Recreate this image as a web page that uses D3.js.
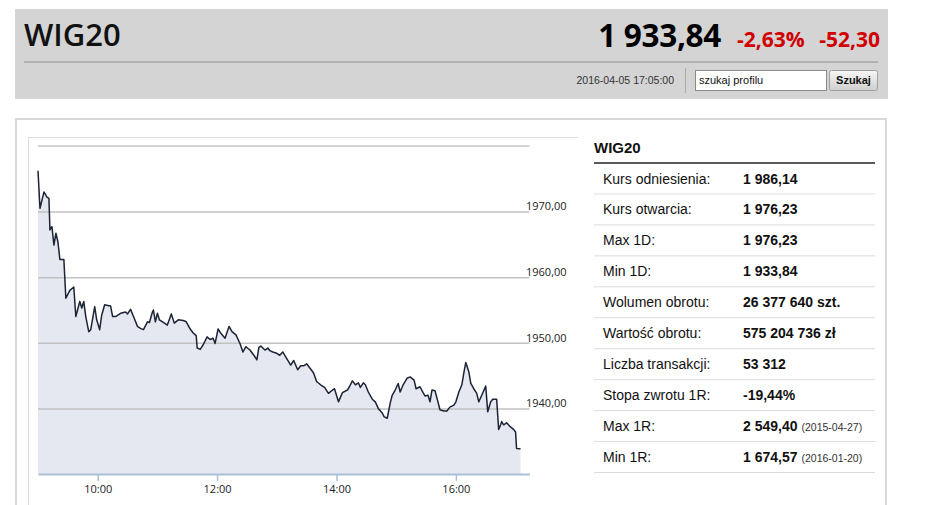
<!DOCTYPE html>
<html>
<head>
<meta charset="utf-8">
<script src="https://cdn.jsdelivr.net/npm/d3@7"></script>
<style>
  body { margin: 0; background: #fff; }
  svg { display: block; }
</style>
</head>
<body>
<div id="chart"></div>
<script>
// intraday WIG20 quotes, 2016-04-05
const times = [
  "09:00","09:02","09:06","09:09","09:11","09:12","09:14","09:16","09:18","09:20",
  "09:22","09:26","09:28","09:32","09:36","09:38","09:42","09:44","09:46","09:48",
  "09:51","09:53","09:57","09:59","10:02","10:04","10:07","10:10","10:13","10:15",
  "10:18","10:23","10:28","10:30","10:33","10:36","10:40","10:43","10:46","10:50",
  "10:52","10:55","10:56","10:58","11:00","11:02","11:06","11:10","11:14","11:17",
  "11:21","11:26","11:29","11:33","11:36","11:39","11:40","11:43","11:46","11:50",
  "11:53","11:56","11:58","12:01","12:04","12:08","12:12","12:15","12:19","12:23",
  "12:26","12:29","12:33","12:37","12:40","12:42","12:44","12:48","12:51","12:53",
  "12:56","13:00","13:03","13:06","13:10","13:14","13:17","13:21","13:24","13:27",
  "13:30","13:34","13:37","13:40","13:44","13:48","13:52","13:56","13:58","14:02",
  "14:06","14:11","14:13","14:16","14:19","14:22","14:24","14:27","14:29","14:32",
  "14:36","14:39","14:42","14:46","14:48","14:51","14:54","14:56","14:59","15:02",
  "15:04","15:07","15:11","15:14","15:18","15:20","15:24","15:27","15:29","15:32",
  "15:34","15:36","15:39","15:42","15:44","15:48","15:51","15:54","15:58","16:00",
  "16:03","16:06","16:08","16:10","16:13","16:15","16:18","16:21","16:23","16:26",
  "16:30","16:32","16:35","16:37","16:41","16:43","16:45","16:46","16:48","16:51",
  "16:54","16:58","17:00","17:01","17:05"
];
const quotes = [
  1976.23,1970.5,1973.0,1972.2,1972.0,1967.2,1967.7,1964.9,1966.7,1965.4,
  1962.7,1962.7,1956.8,1958.0,1958.5,1954.0,1956.3,1955.3,1956.3,1954.0,
  1951.7,1952.0,1955.5,1953.5,1952.0,1954.2,1955.8,1955.7,1955.6,1954.0,
  1954.0,1954.5,1954.7,1954.4,1955.1,1954.0,1952.5,1952.2,1952.0,1953.2,
  1953.1,1954.7,1955.0,1953.2,1954.5,1953.5,1953.1,1952.7,1954.4,1953.0,
  1953.5,1953.4,1953.2,1952.1,1951.5,1951.1,1949.2,1949.0,1949.7,1950.9,
  1950.5,1950.7,1949.9,1952.1,1951.4,1950.7,1952.5,1951.7,1951.2,1949.9,
  1948.6,1949.4,1948.9,1948.1,1947.4,1949.3,1949.5,1948.9,1949.2,1948.8,
  1948.6,1948.4,1948.1,1948.6,1947.6,1946.6,1947.3,1945.9,1946.5,1946.5,
  1946.8,1946.0,1945.4,1944.1,1943.6,1943.2,1942.3,1942.8,1943.0,1941.0,
  1942.4,1942.8,1943.3,1944.2,1943.6,1943.9,1943.2,1943.9,1943.6,1942.5,
  1941.4,1941.0,1940.0,1939.3,1938.7,1938.5,1940.8,1942.0,1942.8,1943.8,
  1942.5,1943.6,1944.6,1944.8,1944.3,1943.0,1943.3,1942.4,1941.9,1942.0,
  1941.0,1942.8,1942.7,1941.0,1939.8,1939.6,1939.6,1940.2,1940.5,1941.0,
  1942.5,1943.6,1945.4,1947.0,1945.6,1943.8,1943.0,1942.3,1941.0,1942.0,
  1943.4,1939.5,1941.0,1941.4,1941.4,1936.8,1937.5,1938.0,1937.5,1937.8,
  1937.3,1936.8,1936.4,1933.9,1933.84
];
const xTicks = ["10:00", "12:00", "14:00", "16:00"];
const yTicks = [1940, 1950, 1960, 1970];

const statLabels = ["Kurs odniesienia:", "Kurs otwarcia:", "Max 1D:", "Min 1D:", "Wolumen obrotu:",
  "Wartość obrotu:", "Liczba transakcji:", "Stopa zwrotu 1R:", "Max 1R:", "Min 1R:"];
const statValues = ["1 986,14", "1 976,23", "1 976,23", "1 933,84", "26 377 640 szt.",
  "575 204 736 zł", "53 312", "-19,44%", "2 549,40", "1 674,57"];
const statDates = ["", "", "", "", "", "", "", "", "(2015-04-27)", "(2016-01-20)"];

const parseTime = d3.timeParse("%H:%M");
const data = times.map((t, i) => ({ t: parseTime(t), v: quotes[i] }));

const svg = d3.select("#chart")
  .append("svg")
  .attr("width", 945)
  .attr("height", 505);

// header bar
const head = svg.append("g");
head.append("rect")
  .attr("x", 15).attr("y", 9).attr("width", 873).attr("height", 90)
  .attr("fill", "#d4d4d4");
head.append("text")
  .attr("x", 24).attr("y", 46)
  .attr("font-family", "Open Sans").attr("font-size", 31).attr("font-weight", 600)
  .attr("fill", "#111")
  .text("WIG20");
head.append("text")
  .attr("x", 721).attr("y", 47).attr("text-anchor", "end")
  .attr("font-family", "Open Sans").attr("font-size", 31.5).attr("font-weight", 700)
  .attr("fill", "#000").attr("letter-spacing", -0.3)
  .text("1 933,84");
head.append("text")
  .attr("x", 737).attr("y", 47)
  .attr("font-family", "Open Sans").attr("font-size", 21).attr("font-weight", 700)
  .attr("fill", "#d00000")
  .text("-2,63%");
head.append("text")
  .attr("x", 880).attr("y", 47).attr("text-anchor", "end")
  .attr("font-family", "Open Sans").attr("font-size", 21).attr("font-weight", 700)
  .attr("fill", "#d00000")
  .text("-52,30");
head.append("line")
  .attr("x1", 24).attr("x2", 878).attr("y1", 62).attr("y2", 62)
  .attr("stroke", "#a6a6a6").attr("stroke-width", 1.5);
head.append("text")
  .attr("x", 674).attr("y", 84).attr("text-anchor", "end")
  .attr("font-family", "Liberation Sans").attr("font-size", 10.5)
  .attr("fill", "#333")
  .text("2016-04-05 17:05:00");
head.append("line")
  .attr("x1", 685.5).attr("x2", 685.5).attr("y1", 68).attr("y2", 93)
  .attr("stroke", "#aaa");
head.append("rect")
  .attr("x", 695.5).attr("y", 70.5).attr("width", 131).attr("height", 20)
  .attr("fill", "#fff").attr("stroke", "#8a8a8a");
head.append("text")
  .attr("x", 699).attr("y", 84)
  .attr("font-family", "Liberation Sans").attr("font-size", 11)
  .attr("fill", "#111")
  .text("szukaj profilu");

const grad = svg.append("defs").append("linearGradient")
  .attr("id", "btn").attr("x1", 0).attr("x2", 0).attr("y1", 0).attr("y2", 1);
grad.append("stop").attr("offset", 0).attr("stop-color", "#f6f6f6");
grad.append("stop").attr("offset", 1).attr("stop-color", "#cfcfcf");
head.append("rect")
  .attr("x", 829.5).attr("y", 70.5).attr("width", 48).attr("height", 20).attr("rx", 2)
  .attr("fill", "url(#btn)").attr("stroke", "#a0a0a0");
head.append("text")
  .attr("x", 853.5).attr("y", 84).attr("text-anchor", "middle")
  .attr("font-family", "Liberation Sans").attr("font-size", 11).attr("font-weight", 700)
  .attr("fill", "#111")
  .text("Szukaj");

// panel frames
svg.append("path")
  .attr("d", "M16,506V119H886V506")
  .attr("fill", "none").attr("stroke", "#d9d9d9").attr("stroke-width", 2);
svg.append("path")
  .attr("d", "M28.5,506V137.5H578")
  .attr("fill", "none").attr("stroke", "#dcdcdc");

// chart
const x = d3.scaleTime()
  .domain([parseTime("09:00"), parseTime("17:14")])
  .range([38, 529.5]);
const y = d3.scaleLinear()
  .domain([1930, 1980])
  .range([474, 146]);

const plot = svg.append("g");

plot.append("path")
  .datum(data)
  .attr("fill", "#e5e8f0")
  .attr("d", d3.area().x(d => x(d.t)).y0(y(1930)).y1(d => y(d.v)));

plot.append("line")
  .attr("x1", 38).attr("x2", 529.5).attr("y1", y(1980)).attr("y2", y(1980))
  .attr("stroke", "#a9a9a9");

const yAxis = plot.append("g")
  .attr("transform", "translate(529.5,0)")
  .call(d3.axisRight(y)
    .tickValues(yTicks)
    .tickSize(-491.5)
    .tickPadding(-3.5)
    .tickFormat(d => d3.format(".2f")(d).replace(".", ",")));
yAxis.select(".domain").remove();
yAxis.selectAll(".tick line").attr("stroke", "#c2c2c2").attr("stroke-width", 1.5);
yAxis.selectAll(".tick text")
  .attr("dy", "-0.15em")
  .attr("font-family", "Open Sans").attr("font-size", 11)
  .attr("fill", "#222");

plot.append("path")
  .datum(data)
  .attr("fill", "none")
  .attr("stroke", "#1b2335")
  .attr("stroke-width", 1.5)
  .attr("stroke-linejoin", "round")
  .attr("d", d3.line().x(d => x(d.t)).y(d => y(d.v)));

const xAxis = plot.append("g")
  .attr("transform", `translate(0,${y(1930)})`)
  .call(d3.axisBottom(x)
    .tickValues(xTicks.map(parseTime))
    .tickSize(7)
    .tickSizeOuter(0)
    .tickPadding(4)
    .tickFormat(d3.timeFormat("%H:%M")));
xAxis.select(".domain").attr("stroke", "#abbfd6").attr("stroke-width", 2);
xAxis.selectAll(".tick line").attr("stroke", "#abbfd6").attr("stroke-width", 1.5);
xAxis.selectAll(".tick text")
  .attr("font-family", "Open Sans").attr("font-size", 11)
  .attr("fill", "#222");

// stats table
const tbl = svg.append("g").attr("font-family", "Liberation Sans").attr("fill", "#111");
tbl.append("text")
  .attr("x", 594).attr("y", 153)
  .attr("font-size", 15).attr("font-weight", 700)
  .text("WIG20");
tbl.append("line")
  .attr("x1", 594).attr("x2", 875).attr("y1", 163).attr("y2", 163)
  .attr("stroke", "#222").attr("stroke-width", 1.5);

const rowH = 30.95;
const rows = tbl.selectAll("g.row")
  .data(statLabels)
  .join("g")
  .attr("class", "row")
  .attr("transform", (d, i) => `translate(0,${163 + i * rowH})`);
rows.append("line")
  .attr("x1", 594).attr("x2", 875).attr("y1", rowH).attr("y2", rowH)
  .attr("stroke", "#dcdcdc");
rows.append("text")
  .attr("x", 603).attr("y", 20.5)
  .attr("font-size", 14)
  .text(d => d);
const vals = rows.append("text")
  .attr("x", 743).attr("y", 20.5)
  .attr("font-size", 14).attr("font-weight", 700)
  .text((d, i) => statValues[i]);
vals.filter((d, i) => statDates[i] !== "")
  .append("tspan")
  .attr("dx", 4)
  .attr("font-size", 10.5).attr("font-weight", 400).attr("fill", "#333")
  .text(d => statDates[statLabels.indexOf(d)]);
</script>
</body>
</html>
